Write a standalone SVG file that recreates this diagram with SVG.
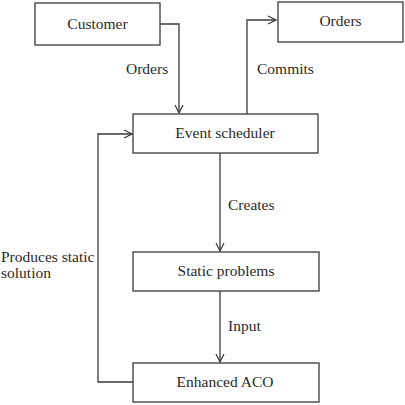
<svg xmlns="http://www.w3.org/2000/svg" width="405" height="405" viewBox="0 0 405 405">
<style>
.box{fill:#fff;stroke:#3a3a3a;stroke-width:1.3}
.t{font-family:'Liberation Serif','DejaVu Serif',serif;font-size:15.5px;fill:#2a2a2a}
.c{text-anchor:middle}
.ln{fill:none;stroke:#3a3a3a;stroke-width:1.3}
</style>
<defs>
<marker id="ah" viewBox="0 0 10 10" refX="9" refY="5" markerWidth="10" markerHeight="10" markerUnits="userSpaceOnUse" orient="auto">
<path d="M1,1 L9,5 L1,9" fill="none" stroke="#3a3a3a" stroke-width="1.2"/>
</marker>
</defs>
<g id="connectors">
<polyline class="ln" points="160,24 179,24 179,113" marker-end="url(#ah)"/>
<polyline class="ln" points="247,114 247,20 276,20" marker-end="url(#ah)"/>
<polyline class="ln" points="220,153 220,251" marker-end="url(#ah)"/>
<polyline class="ln" points="220,291 220,362" marker-end="url(#ah)"/>
<polyline class="ln" points="133,382 98,382 98,134 132,134" marker-end="url(#ah)"/>
<text class="t" x="126" y="74">Orders</text>
<text class="t" x="257" y="74">Commits</text>
<text class="t" x="228" y="210">Creates</text>
<text class="t" x="228" y="331">Input</text>
<text class="t" x="1" y="262">Produces static</text>
<text class="t" x="1" y="278">solution</text>
</g>
<g id="customer">
<rect class="box" x="35" y="3" width="125" height="42"/>
<text class="t c" x="97.5" y="29">Customer</text>
</g>
<g id="orders">
<rect class="box" x="278" y="2" width="125" height="40"/>
<text class="t c" x="340.5" y="26">Orders</text>
</g>
<g id="event-scheduler">
<rect class="box" x="133" y="114" width="185" height="39"/>
<text class="t c" x="225" y="138">Event scheduler</text>
</g>
<g id="static-problems">
<rect class="box" x="133" y="252" width="186" height="39"/>
<text class="t c" x="226" y="276">Static problems</text>
</g>
<g id="enhanced-aco">
<rect class="box" x="133" y="363" width="186" height="39"/>
<text class="t c" x="225" y="387">Enhanced ACO</text>
</g>
</svg>
